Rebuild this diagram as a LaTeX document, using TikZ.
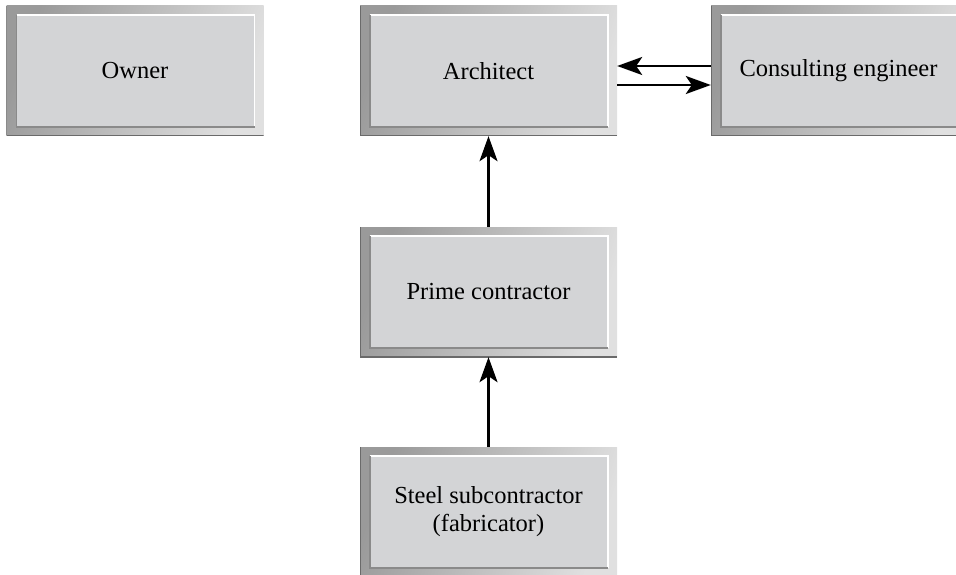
\documentclass[tikz,border=0pt]{standalone}
\usepackage{fontspec}
\setmainfont{Liberation Serif}
\usetikzlibrary{arrows.meta}
\definecolor{facec}{HTML}{D3D4D6}
\definecolor{framedark}{HTML}{9A9A9A}
\definecolor{framelight}{HTML}{E0E0E0}
\definecolor{edgedark}{HTML}{6A6A6A}
\definecolor{faceedge}{HTML}{8A8A8A}
\tikzset{
  box/.style={rectangle, minimum width=257pt, minimum height=130pt, inner sep=0pt,
    draw=none, left color=framedark, right color=framelight, shading angle=70,
    align=center, font=\fontsize{24.5}{28}\selectfont,
    path picture={
      \fill[facec] ([xshift=10pt,yshift=-9pt]path picture bounding box.north west)
        rectangle ([xshift=-9pt,yshift=9pt]path picture bounding box.south east);
      \draw[white,line width=1.6pt] ([xshift=10pt,yshift=-9pt]path picture bounding box.north west)
        -- ([xshift=-9pt,yshift=-9pt]path picture bounding box.north east)
        -- ([xshift=-9pt,yshift=9pt]path picture bounding box.south east);
      \draw[faceedge,line width=1.4pt] ([xshift=10pt,yshift=-9pt]path picture bounding box.north west)
        -- ([xshift=10pt,yshift=9pt]path picture bounding box.south west)
        -- ([xshift=-9pt,yshift=9pt]path picture bounding box.south east);
      \draw[edgedark,line width=1.4pt] (path picture bounding box.north west)
        -- (path picture bounding box.south west)
        -- (path picture bounding box.south east);
    }},
  arr/.style={line width=2.4pt, -{Stealth[length=25pt,width=18pt,inset=6pt]}}
}
\begin{document}
\begin{tikzpicture}[x=1pt,y=-1pt]
\useasboundingbox (0,0) rectangle (956,575);
\clip (0,0) rectangle (956,575);
\node[box] (owner) at (135,71) {Owner};
\node[box] (arch) at (488.5,71) {Architect};
\node[box] (cons) at (839.5,71) {\hspace*{-2pt}Consulting engineer};
\node[box] (prime) at (488.5,292) {Prime contractor};
\node[box] (steel) at (488.5,512) {Steel subcontractor\\(fabricator)};
\draw[arr] ([yshift=5pt]cons.west) -- ([yshift=5pt]arch.east);
\draw[arr] ([yshift=-14pt]arch.east) -- ([yshift=-14pt]cons.west);
\draw[arr] (prime.north) -- (arch.south);
\draw[arr] (steel.north) -- (prime.south);
\end{tikzpicture}
\end{document}
